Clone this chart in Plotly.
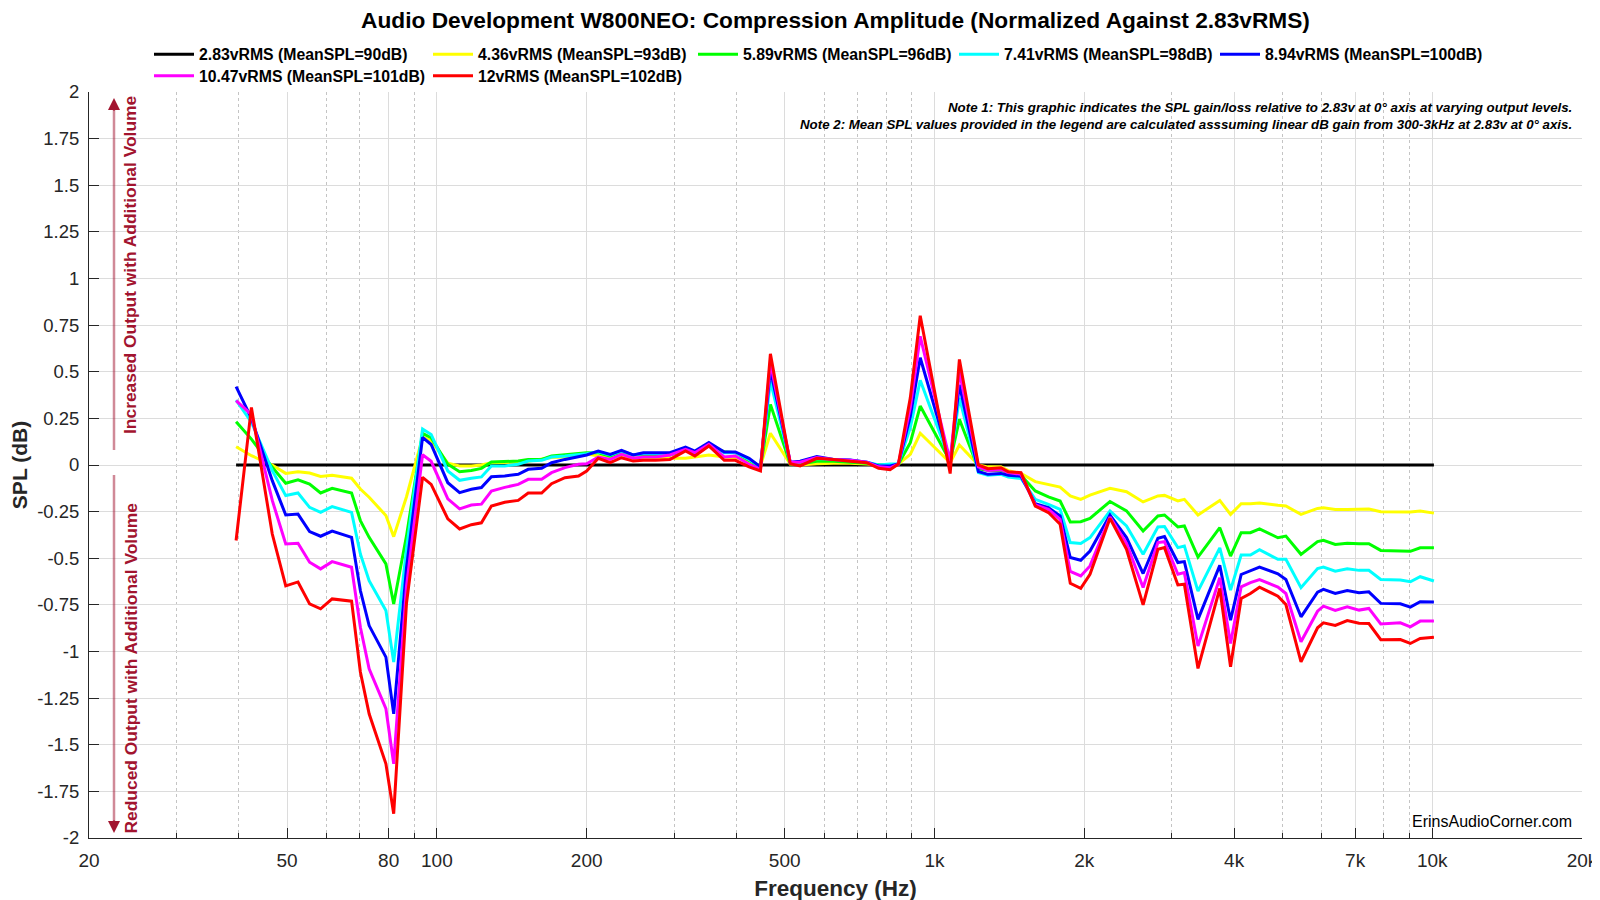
import plotly.graph_objects as go

# ---------------- data ----------------
freq_hz = [39.5, 42.4, 46.7, 49.7, 52.6, 55.5, 58.4, 61.6, 67.4, 70.2,
           73.1, 79.0, 81.9, 86.9, 93.6, 97.4, 105.2, 111.1, 117.3, 122.9,
           128.7, 136.9, 145.7, 152.6, 162.4, 170.0, 180.9, 192.6, 200.0, 211,
           223, 235, 248, 260, 275, 294, 316, 330, 352, 378,
           398, 424, 447, 468, 513, 537, 580, 627, 677, 731,
           772, 814, 846, 894, 936, 1075, 1122, 1225, 1280, 1360,
           1407, 1492, 1594, 1694, 1788, 1874, 1967, 2053, 2252, 2431,
           2625, 2811, 2898, 3083, 3177, 3384, 3743, 3934, 4132, 4313,
           4498, 4898, 5082, 5450, 5884, 6046, 6386, 6750, 7130, 7460,
           7883, 8630, 9040, 9460, 10080]

ref_freq_hz = [39.5, 10080]
spl_283 = [0.0, 0.0]

spl_436 = [0.098, 0.05, 0.0, -0.045, -0.036,
           -0.043, -0.061, -0.055, -0.071, -0.129,
           -0.173, -0.271, -0.384, -0.17, 0.15,
           0.13, 0.01, -0.005, -0.005, 0.0,
           0.012, 0.012, 0.016, 0.02, 0.03,
           0.04, 0.043, 0.054, 0.06, 0.048,
           0.043, 0.04, 0.036, 0.04, 0.036,
           0.036, 0.036, 0.043, 0.054, 0.043,
           0.04, 0.02, -0.005, 0.17, 0.005,
           0.0, 0.007, 0.01, 0.01, 0.005,
           0.0, -0.005, 0.005, 0.057, 0.17,
           0.012, 0.107, 0.0, -0.01, -0.01,
           -0.03, -0.045, -0.089, -0.104, -0.118,
           -0.166, -0.184, -0.161, -0.125, -0.143,
           -0.198, -0.166, -0.163, -0.193, -0.184,
           -0.268, -0.19, -0.265, -0.208, -0.208,
           -0.204, -0.216, -0.22, -0.265, -0.233,
           -0.229, -0.238, -0.238, -0.236, -0.236,
           -0.25, -0.249, -0.252, -0.247, -0.258]

spl_589 = [0.232, 0.139, -0.0125, -0.098, -0.079,
           -0.102, -0.15, -0.125, -0.15, -0.298,
           -0.388, -0.53, -0.745, -0.38, 0.17,
           0.146, 0.004, -0.036, -0.029, -0.018,
           0.016, 0.018, 0.021, 0.03, 0.03,
           0.048, 0.054, 0.061, 0.066, 0.066,
           0.048, 0.071, 0.054, 0.057, 0.057,
           0.054, 0.079, 0.066, 0.102, 0.071,
           0.066, 0.025, -0.01, 0.325, 0.005,
           0.005, 0.02, 0.02, 0.015, 0.01,
           0.0, -0.005, 0.005, 0.12, 0.316,
           0.02, 0.245, -0.02, -0.03, -0.03,
           -0.04, -0.055, -0.139, -0.171, -0.193,
           -0.305, -0.304, -0.286, -0.196, -0.246,
           -0.354, -0.273, -0.268, -0.332, -0.327,
           -0.494, -0.336, -0.488, -0.363, -0.363,
           -0.342, -0.39, -0.381, -0.479, -0.411,
           -0.404, -0.426, -0.42, -0.422, -0.422,
           -0.458, -0.462, -0.463, -0.444, -0.444]

spl_741 = [0.348, 0.23, -0.03, -0.164, -0.15,
           -0.227, -0.254, -0.223, -0.254, -0.477,
           -0.62, -0.78, -1.057, -0.45, 0.193,
           0.164, -0.032, -0.082, -0.071, -0.064,
           -0.005, -0.005, 0.004, 0.021, 0.025,
           0.043, 0.048, 0.054, 0.061, 0.071,
           0.054, 0.075, 0.054, 0.061, 0.061,
           0.061, 0.084, 0.066, 0.107, 0.066,
           0.066, 0.03, -0.01, 0.45, 0.01,
           0.02, 0.035, 0.03, 0.025, 0.015,
           0.0, 0.005, 0.005, 0.2, 0.454,
           0.02, 0.36, -0.04, -0.055, -0.05,
           -0.065, -0.072, -0.184, -0.211, -0.238,
           -0.416, -0.421, -0.389, -0.246, -0.327,
           -0.479, -0.332, -0.33, -0.443, -0.434,
           -0.676, -0.444, -0.671, -0.483, -0.483,
           -0.454, -0.506, -0.506, -0.658, -0.555,
           -0.547, -0.569, -0.556, -0.565, -0.565,
           -0.614, -0.617, -0.626, -0.599, -0.622]

spl_894 = [0.42, 0.25, -0.084, -0.268, -0.263,
           -0.357, -0.382, -0.354, -0.388, -0.673,
           -0.861, -1.03, -1.334, -0.55, 0.148,
           0.11, -0.095, -0.148, -0.13, -0.121,
           -0.063, -0.059, -0.05, -0.023, -0.018,
           0.0125, 0.03, 0.043, 0.054, 0.075,
           0.057, 0.079, 0.054, 0.066, 0.066,
           0.066, 0.096, 0.075, 0.12, 0.07,
           0.07, 0.036, -0.01, 0.51, 0.015,
           0.02, 0.045, 0.03, 0.027, 0.015,
           -0.005, -0.005, 0.005, 0.26, 0.575,
           0.02, 0.43, -0.035, -0.05, -0.045,
           -0.055, -0.06, -0.207, -0.229, -0.273,
           -0.496, -0.511, -0.461, -0.268, -0.389,
           -0.582, -0.393, -0.384, -0.523, -0.518,
           -0.828, -0.538, -0.832, -0.587, -0.565,
           -0.547, -0.583, -0.614, -0.814, -0.682,
           -0.667, -0.689, -0.673, -0.685, -0.68,
           -0.742, -0.744, -0.762, -0.733, -0.735]

spl_1047 = [0.345, 0.27, -0.19, -0.423, -0.42,
            -0.521, -0.557, -0.518, -0.548, -0.87,
            -1.093, -1.307, -1.602, -0.65, 0.055,
            0.02, -0.182, -0.235, -0.215, -0.21,
            -0.14, -0.12, -0.104, -0.077, -0.077,
            -0.041, -0.014, 0.004, 0.007, 0.043,
            0.03, 0.057, 0.036, 0.043, 0.043,
            0.054, 0.084, 0.066, 0.111, 0.043,
            0.048, 0.004, -0.023, 0.55, 0.015,
            0.015, 0.04, 0.03, 0.025, 0.015,
            -0.01, -0.015, 0.005, 0.31, 0.69,
            0.02, 0.50, -0.01, -0.03, -0.025,
            -0.04, -0.05, -0.214, -0.238, -0.291,
            -0.571, -0.595, -0.541, -0.279, -0.421,
            -0.657, -0.416, -0.411, -0.586, -0.577,
            -0.971, -0.605, -0.957, -0.653, -0.631,
            -0.614, -0.655, -0.689, -0.948, -0.784,
            -0.757, -0.78, -0.76, -0.778, -0.769,
            -0.852, -0.846, -0.868, -0.837, -0.837]

spl_1200 = [-0.405, 0.309, -0.37, -0.648, -0.627,
            -0.745, -0.771, -0.718, -0.73, -1.11,
            -1.334, -1.602, -1.87, -0.74, -0.066,
            -0.104, -0.289, -0.343, -0.32, -0.31,
            -0.22, -0.2, -0.19, -0.15, -0.15,
            -0.1, -0.068, -0.059, -0.032, 0.036,
            0.0125, 0.039, 0.021, 0.025, 0.025,
            0.03, 0.075, 0.048, 0.102, 0.025,
            0.025, -0.01, -0.032, 0.596, 0.007,
            -0.005, 0.036, 0.03, 0.02, 0.0125,
            -0.018, -0.025, 0.005, 0.36, 0.80,
            -0.046, 0.566, 0.0, -0.02, -0.015,
            -0.036, -0.041, -0.22, -0.255, -0.318,
            -0.634, -0.661, -0.586, -0.286, -0.452,
            -0.75, -0.452, -0.443, -0.643, -0.639,
            -1.091, -0.662, -1.082, -0.716, -0.689,
            -0.655, -0.703, -0.748, -1.055, -0.873,
            -0.846, -0.86, -0.834, -0.848, -0.85,
            -0.937, -0.936, -0.957, -0.93, -0.923]

series_names = ["2.83vRMS (MeanSPL=90dB)", "4.36vRMS (MeanSPL=93dB)",
                "5.89vRMS (MeanSPL=96dB)", "7.41vRMS (MeanSPL=98dB)",
                "8.94vRMS (MeanSPL=100dB)", "10.47vRMS (MeanSPL=101dB)",
                "12vRMS (MeanSPL=102dB)"]
series_colors = ["#000000", "#ffff00", "#00ff00", "#00ffff", "#0000ff", "#ff00ff", "#ff0000"]

x_tick_vals = [20, 50, 80, 100, 200, 500, 1000, 2000, 4000, 7000, 10000, 20000]
x_tick_text = ["20", "50", "80", "100", "200", "500", "1k", "2k", "4k", "7k", "10k", "20k"]
x_minor_vals = [30, 40, 60, 70, 90, 300, 400, 600, 700, 800, 900,
                3000, 5000, 6000, 8000, 9000]
y_tick_vals = [2, 1.75, 1.5, 1.25, 1, 0.75, 0.5, 0.25, 0, -0.25, -0.5, -0.75,
               -1, -1.25, -1.5, -1.75, -2]
y_tick_text = ["2", "1.75", "1.5", "1.25", "1", "0.75", "0.5", "0.25", "0", "-0.25",
               "-0.5", "-0.75", "-1", "-1.25", "-1.5", "-1.75", "-2"]

# ---------------- figure ----------------
FONT = "Liberation Sans, Arial, Helvetica, sans-serif"
AX = "#262626"
DARKRED = "#A2142F"

W, H = 1600, 900
ML, MR, MT, MB = 81, 26, 84, 70
PW, PH = W - ML - MR, H - MT - MB


def px_x(p):
    return (p - ML) / PW


def px_y(p):
    return (H - MB - p) / PH


# legend entry layout (two rows, matching the reference columns)
legend_ids = ["legend", "legend2", "legend3", "legend4", "legend5", "legend6", "legend7"]
legend_left_px = [141, 420, 685, 946, 1207, 141, 420]
legend_mid_px = [46.5, 46.5, 46.5, 46.5, 46.5, 68, 68]

fig = go.Figure()
xs = [ref_freq_hz] + [freq_hz] * 6
ys = [spl_283, spl_436, spl_589, spl_741, spl_894, spl_1047, spl_1200]
for name, col, x, y, lg in zip(series_names, series_colors, xs, ys, legend_ids):
    fig.add_trace(go.Scatter(x=x, y=y, mode="lines", name=name, legend=lg,
                             line=dict(color=col, width=3)))

legend_layout = {}
for lg, lx, ly in zip(legend_ids, legend_left_px, legend_mid_px):
    legend_layout[lg] = dict(orientation="h", x=px_x(lx), xanchor="left", xref="paper",
                             y=1 - ly / H, yref="container", yanchor="middle",
                             font=dict(size=15.8, color="#000000", weight="bold"),
                             bgcolor="rgba(0,0,0,0)", borderwidth=0, itemwidth=40)

fig.update_layout(
    width=W, height=H,
    margin=dict(l=ML, r=MR, t=MT, b=MB, autoexpand=False),
    paper_bgcolor="white", plot_bgcolor="white",
    font=dict(family=FONT, color=AX),
    title=dict(text="<b>Audio Development W800NEO: Compression Amplitude (Normalized Against 2.83vRMS)</b>",
               font=dict(size=22.7, color="#000000"),
               x=0.5, xref="paper", xanchor="center",
               y=1 - 12 / H, yref="container", yanchor="middle"),
    showlegend=True,
    **legend_layout,
)

fig.update_xaxes(
    type="log", range=[1.30103, 4.30103],
    tickmode="array", tickvals=x_tick_vals, ticktext=x_tick_text,
    ticks="inside", ticklen=10, tickwidth=1, tickcolor=AX,
    tickfont=dict(size=19, color=AX), ticklabelstandoff=5,
    showline=True, linecolor=AX, linewidth=1, mirror=False,
    showgrid=True, gridcolor="#dcdcdc", gridwidth=1, zeroline=False,
    minor=dict(tickmode="array", tickvals=x_minor_vals, ticks="inside", ticklen=5,
               tickcolor=AX, showgrid=True, gridcolor="#c4c4c4", griddash="dot", gridwidth=1),
    title=dict(text="<b>Frequency (Hz)</b>", font=dict(size=22.5, color=AX), standoff=10),
)
fig.update_yaxes(
    range=[-2, 2], tickmode="array", tickvals=y_tick_vals, ticktext=y_tick_text,
    ticks="inside", ticklen=10, tickwidth=1, tickcolor=AX,
    tickfont=dict(size=18.5, color=AX), ticklabelstandoff=5,
    showline=True, linecolor=AX, linewidth=1, mirror=False,
    showgrid=True, gridcolor="#dcdcdc", gridwidth=1, zeroline=False,
    title=dict(text="<b>SPL (dB)</b>", font=dict(size=21, color=AX), standoff=15),
)

notes = [
    "Note 1: This graphic indicates the SPL gain/loss relative to 2.83v at 0° axis at varying output levels.",
    "Note 2: Mean SPL values provided in the legend are calculated asssuming linear dB gain from 300-3kHz at 2.83v at 0° axis.",
]
for i, t in enumerate(notes):
    fig.add_annotation(text="<b><i>" + t + "</i></b>", xref="paper", yref="paper",
                       x=px_x(1566), y=px_y(99 + 17.5 * i), xanchor="right", yanchor="middle",
                       showarrow=False, font=dict(size=13.3, color="#000000"))

fig.add_annotation(text="ErinsAudioCorner.com", xref="paper", yref="paper",
                   x=px_x(1566), y=px_y(813), xanchor="right", yanchor="middle",
                   showarrow=False, font=dict(size=16, color="#000000"))

# side labels
fig.add_annotation(text="<b>Increased Output with Additional Volume</b>", textangle=-90,
                   xref="paper", yref="paper", x=px_x(122), y=px_y(86),
                   xanchor="center", yanchor="top", showarrow=False,
                   font=dict(size=17.4, color=DARKRED))
fig.add_annotation(text="<b>Reduced Output with Additional Volume</b>", textangle=-90,
                   xref="paper", yref="paper", x=px_x(122), y=px_y(828),
                   xanchor="center", yanchor="bottom", showarrow=False,
                   font=dict(size=17.4, color=DARKRED))

# arrow shafts
for y0, y1 in [(442, 97), (467, 817)]:
    fig.add_shape(type="line", xref="paper", yref="paper",
                  x0=px_x(106), x1=px_x(106), y0=px_y(y0), y1=px_y(y1),
                  line=dict(color="rgba(162,20,47,0.5)", width=2.5))
# arrow heads
fig.add_annotation(text="", xref="paper", yref="paper", x=px_x(106), y=px_y(90),
                   ax=0, ay=14, showarrow=True, arrowhead=2, arrowsize=1.2,
                   arrowwidth=2, arrowcolor=DARKRED)
fig.add_annotation(text="", xref="paper", yref="paper", x=px_x(106), y=px_y(825),
                   ax=0, ay=-14, showarrow=True, arrowhead=2, arrowsize=1.2,
                   arrowwidth=2, arrowcolor=DARKRED)

fig.write_html("out.html")
